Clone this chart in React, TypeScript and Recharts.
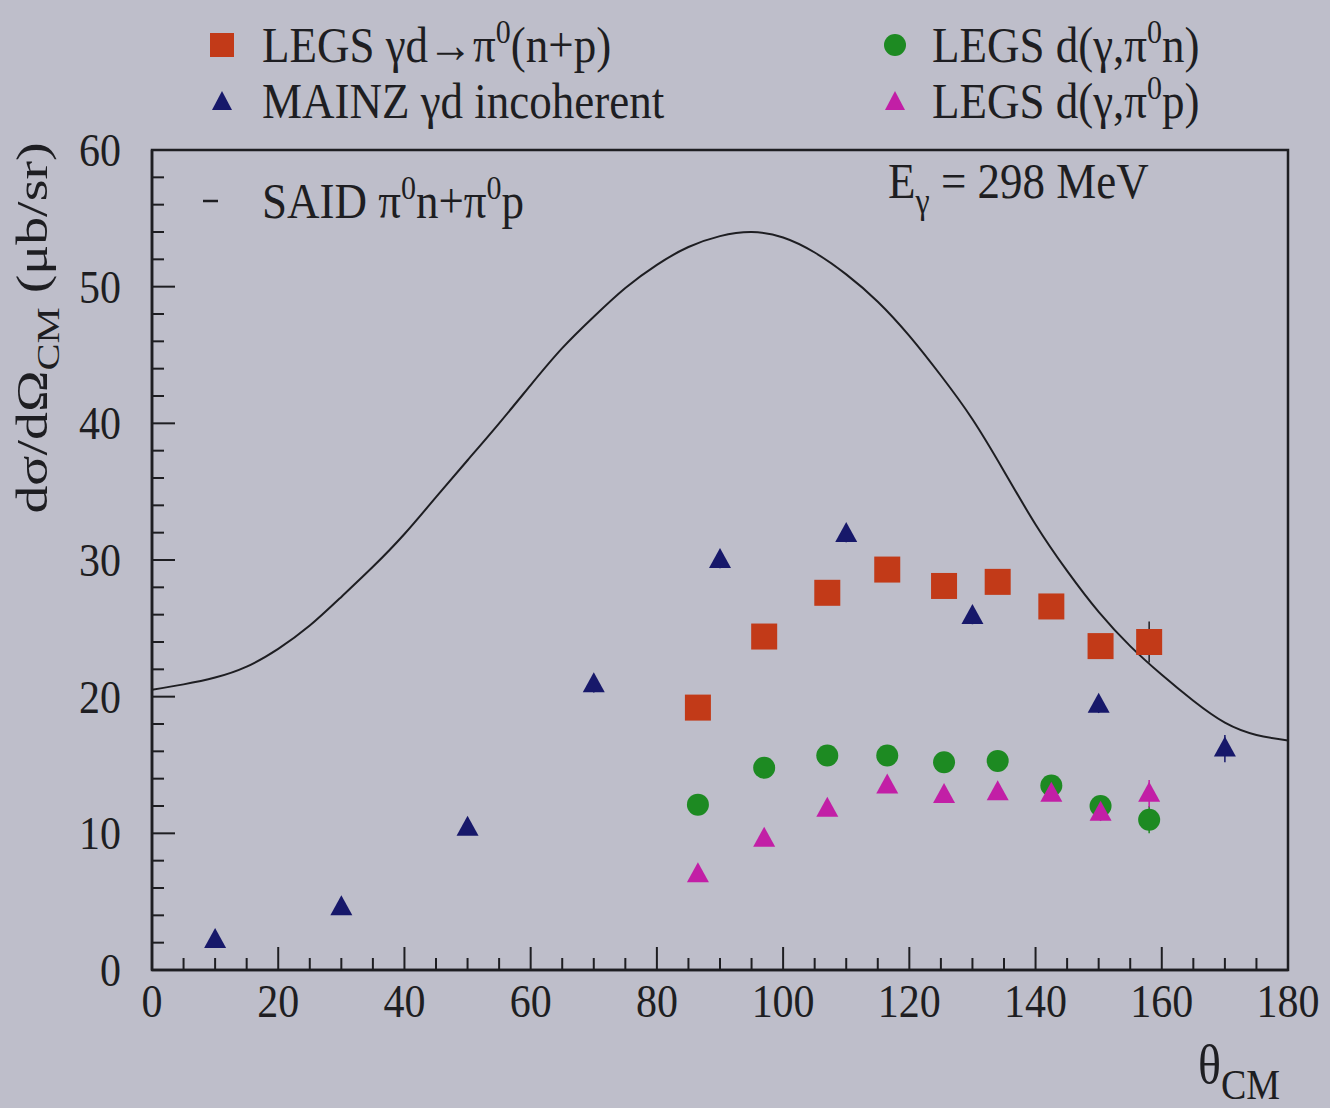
import { ComposedChart, Line, Scatter, XAxis, YAxis, ErrorBar, ReferenceArea } from "recharts";

// SAID pi0 n + pi0 p curve (theta_CM in deg, dsigma/dOmega in mub/sr)
const saidTheta = [0, 5, 10, 15, 20, 25, 30, 35, 40, 45, 50, 55, 60, 65, 70, 75, 80, 85, 90, 95, 100, 105, 110, 115, 120, 125, 130, 135, 140, 145, 150, 155, 160, 165, 170, 175, 180];
const saidXs = [20.5, 20.9, 21.4, 22.2, 23.5, 25.2, 27.3, 29.5, 31.9, 34.6, 37.3, 40.0, 42.8, 45.5, 47.8, 49.9, 51.6, 52.9, 53.7, 54.0, 53.6, 52.5, 50.9, 48.9, 46.4, 43.5, 40.3, 36.5, 32.6, 29.2, 26.2, 23.7, 21.6, 19.7, 18.1, 17.2, 16.8];

// MAINZ gamma d incoherent
const mainzTheta = [10, 30, 50, 70, 90, 110, 130, 150, 170];
const mainzXs = [2.2, 4.6, 10.4, 20.9, 30.0, 31.9, 25.9, 19.4, 16.2];
const mainzErr = [0.4, 0.4, 0.5, 0.6, 0.6, 0.6, 0.6, 0.6, 1.0];

// LEGS data
const legsTheta = [86.5, 97, 107, 116.5, 125.5, 134, 142.5, 150.3, 158];
const legsNP = [19.2, 24.4, 27.6, 29.3, 28.1, 28.4, 26.6, 23.7, 24.0];
const legsNPErr = [0.7, 0.7, 0.7, 0.7, 0.7, 0.7, 0.7, 0.8, 1.5];
const legsN = [12.1, 14.8, 15.7, 15.7, 15.2, 15.3, 13.5, 12.0, 11.0];
const legsNErr = [0.5, 0.5, 0.5, 0.5, 0.5, 0.5, 0.5, 0.6, 1.0];
const legsP = [7.0, 9.6, 11.8, 13.5, 12.8, 13.0, 12.9, 11.5, 12.9];
const legsPErr = [0.5, 0.5, 0.5, 0.5, 0.5, 0.5, 0.5, 0.6, 1.0];

// every 5 deg a tick, labelled every 20; every 2 units a tick, labelled every 10
const xTicks = [0, 5, 10, 15, 20, 25, 30, 35, 40, 45, 50, 55, 60, 65, 70, 75, 80, 85, 90, 95, 100, 105, 110, 115, 120, 125, 130, 135, 140, 145, 150, 155, 160, 165, 170, 175, 180];
const yTicks = [0, 2, 4, 6, 8, 10, 12, 14, 16, 18, 20, 22, 24, 26, 28, 30, 32, 34, 36, 38, 40, 42, 44, 46, 48, 50, 52, 54, 56, 58, 60];

const INK = "#1e1e22";
const BG = "#bebeca";
const RED = "#c23a18";
const BLUE = "#17186a";
const GREEN = "#1d8a22";
const MAGENTA = "#c21fa6";
const FONT = "'Liberation Serif', 'Times New Roman', serif";
const STRETCH = 1.13; // the scan is a bit taller than wide

const zip = (xs: number[], ys: number[], es?: number[]) =>
  xs.map((x, i) => ({ x, y: ys[i], err: es ? es[i] : 0 }));

const saidData = zip(saidTheta, saidXs);
const mainzData = zip(mainzTheta, mainzXs, mainzErr);
const npData = zip(legsTheta, legsNP, legsNPErr);
const nData = zip(legsTheta, legsN, legsNErr);
const pData = zip(legsTheta, legsP, legsPErr);

const square = (color: string) => (p: any) =>
  <rect x={p.cx - 13} y={p.cy - 13} width={26} height={26} fill={color} />;
const circle = (color: string) => (p: any) =>
  <circle cx={p.cx} cy={p.cy} r={11} fill={color} />;
const triangle = (color: string) => (p: any) =>
  <polygon points={`${p.cx},${p.cy - 12} ${p.cx + 11},${p.cy + 8} ${p.cx - 11},${p.cy + 8}`} fill={color} />;

const XTick = (p: any) => {
  const v = p.payload.value;
  const major = v % 20 === 0;
  return (
    <g>
      <line x1={p.x} x2={p.x} y1={p.y} y2={p.y - (major ? 23 : 12)} stroke={INK} strokeWidth={2} />
      {major && (
        <text transform={`translate(${p.x},${p.y + 47}) scale(1,${STRETCH})`} textAnchor="middle"
          fontSize={42} fontFamily={FONT} fill={INK}>{v}</text>
      )}
    </g>
  );
};

const YTick = (p: any) => {
  const v = p.payload.value;
  const major = v % 10 === 0;
  return (
    <g>
      <line x1={p.x} x2={p.x + (major ? 23 : 12)} y1={p.y} y2={p.y} stroke={INK} strokeWidth={2} />
      {major && (
        <text transform={`translate(${p.x - 31},${p.y + 16}) scale(1,${STRETCH})`} textAnchor="end"
          fontSize={42} fontFamily={FONT} fill={INK}>{v}</text>
      )}
    </g>
  );
};

// superscript zero, then the rest of the text back on the baseline
const sup0 = (after: string) => (
  <>
    <tspan dy={-17} fontSize={30}>0</tspan>
    <tspan dy={17}>{after}</tspan>
  </>
);

const T = ({ x, y, children, size = 45 }: { x: number; y: number; children: any; size?: number }) => (
  <text transform={`translate(${x},${y}) scale(1,${STRETCH})`} fontSize={size}>{children}</text>
);

function Overlay() {
  return (
    <svg width={1330} height={1108} style={{ position: "absolute", left: 0, top: 0, pointerEvents: "none" }}
      fontFamily={FONT} fill={INK}>
      {/* legend */}
      <rect x={210} y={33} width={24} height={24} fill={RED} />
      <T x={262} y={62}>LEGS γd→π{sup0("(n+p)")}</T>
      <polygon points="222,91 232,110 212,110" fill={BLUE} />
      <T x={262} y={118}>MAINZ γd incoherent</T>
      <circle cx={895} cy={45} r={11} fill={GREEN} />
      <T x={932} y={62}>LEGS d(γ,π{sup0("n)")}</T>
      <polygon points="895,91 905,110 885,110" fill={MAGENTA} />
      <T x={932} y={118}>LEGS d(γ,π{sup0("p)")}</T>

      {/* in-plot annotations */}
      <line x1={203} x2={218} y1={201} y2={201} stroke={INK} strokeWidth={2.5} />
      <T x={262} y={218}>SAID π{sup0("n+π")}{sup0("p")}</T>
      <T x={888} y={198}>
        E<tspan dy={13} fontSize={32}>γ</tspan><tspan dy={-13}> = 298 MeV</tspan>
      </T>

      {/* axis titles */}
      <T x={1198} y={1083} size={48}>
        θ<tspan dy={14} fontSize={38}>CM</tspan>
      </T>
      <text transform="translate(47,328) rotate(-90) scale(1.27,1)" textAnchor="middle" fontSize={44}>
        dσ/dΩ<tspan dy={12} fontSize={32}>CM</tspan><tspan dy={-12}> (μb/sr)</tspan>
      </text>
    </svg>
  );
}

export default function App() {
  return (
    <div style={{ position: "absolute", left: 0, top: 0, width: 1330, height: 1108, background: BG }}>
      <ComposedChart width={1330} height={1108} margin={{ top: 150, right: 42, bottom: 78, left: 72 }}>
        <XAxis type="number" dataKey="x" domain={[0, 180]} ticks={xTicks} interval={0} height={60}
          tickLine={false} tickSize={0} tickMargin={0} tick={<XTick />}
          axisLine={{ stroke: INK, strokeWidth: 2.5 }} allowDataOverflow />
        <YAxis type="number" dataKey="y" domain={[0, 60]} ticks={yTicks} interval={0} width={80}
          tickLine={false} tickSize={0} tickMargin={0} tick={<YTick />}
          axisLine={{ stroke: INK, strokeWidth: 2.5 }} allowDataOverflow />
        <ReferenceArea x1={0} x2={180} y1={0} y2={60} fill="none" stroke={INK} strokeWidth={2.5} ifOverflow="visible" />

        <Line data={saidData} dataKey="y" type="natural" stroke={INK} strokeWidth={2} dot={false}
          isAnimationActive={false} />
        <Scatter data={npData} dataKey="y" shape={square(RED)} isAnimationActive={false}>
          <ErrorBar dataKey="err" direction="y" width={0} stroke={INK} strokeWidth={1.5} />
        </Scatter>
        <Scatter data={mainzData} dataKey="y" shape={triangle(BLUE)} isAnimationActive={false}>
          <ErrorBar dataKey="err" direction="y" width={0} stroke={BLUE} strokeWidth={1.5} />
        </Scatter>
        <Scatter data={nData} dataKey="y" shape={circle(GREEN)} isAnimationActive={false}>
          <ErrorBar dataKey="err" direction="y" width={0} stroke={GREEN} strokeWidth={1.5} />
        </Scatter>
        <Scatter data={pData} dataKey="y" shape={triangle(MAGENTA)} isAnimationActive={false}>
          <ErrorBar dataKey="err" direction="y" width={0} stroke={MAGENTA} strokeWidth={1.5} />
        </Scatter>
      </ComposedChart>
      <Overlay />
    </div>
  );
}
